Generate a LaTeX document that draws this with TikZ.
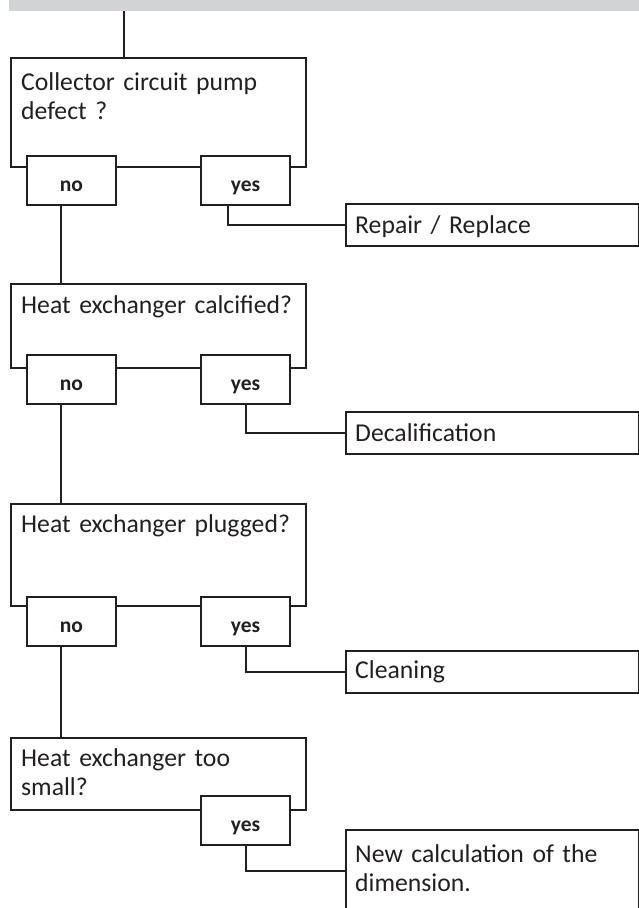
\documentclass[tikz,border=0pt]{standalone}
\usepackage{fontspec}
\setmainfont{Carlito}
\definecolor{ink}{HTML}{231F20}
\definecolor{bargray}{HTML}{D1D3D4}
\begin{document}
\begin{tikzpicture}[x=1pt,y=-1pt,
  box/.style={draw=ink, line width=2pt, rectangle, inner sep=0pt, anchor=north west, minimum width=295pt},
  qbox/.style={box, minimum width=295pt},
  rbox/.style={box, minimum width=293pt, fill=white},
  ans/.style={box, fill=white, minimum width=89pt, minimum height=49pt, text=ink,
     font=\bfseries\fontsize{21.5}{24}\selectfont, text height=21pt, text depth=0pt},
  qtext/.style={anchor=base west, inner sep=0pt, text width=290pt, align=left, text=ink,
     font=\fontsize{25.7}{29.5}\selectfont},
  wire/.style={draw=ink, line width=2pt}]
\useasboundingbox (0,0) rectangle (639,908);
\clip (0,0) rectangle (639,908);
% named x positions of the connectors
\coordinate (top) at (124,0);
\coordinate (spine) at (61,0);
\coordinate (ya) at (228,0);
\coordinate (yb) at (246,0);
% grey bar
\node[fill=bargray, inner sep=0pt, anchor=north west, minimum width=630pt, minimum height=10.5pt] (bar) at (9,0) {};
% question 1
\node[qbox, minimum height=109pt] (d1) at (10,57) {};
\node[qtext] (t1) at (21,90) {Collector circuit pump\\defect ?};
\node[ans] (n1) at (26,155) {no};
\node[ans] (y1) at (200,155) {yes};
\node[rbox, minimum height=42pt] (r1) at (345,203) {};
\node[qtext] (s1) at (355,233) {Repair / Replace};
% question 2
\node[qbox, minimum height=84pt] (d2) at (10,283) {};
\node[qtext] (t2) at (21,313) {Heat exchanger calcified?};
\node[ans] (n2) at (26,354) {no};
\node[ans] (y2) at (200,354) {yes};
\node[rbox, minimum height=42pt] (r2) at (345,411) {};
\node[qtext] (s2) at (355,441) {Decalification};
% question 3
\node[qbox, minimum height=102pt] (d3) at (10,503) {};
\node[qtext] (t3) at (21,532) {Heat exchanger plugged?};
\node[ans] (n3) at (26,596) {no};
\node[ans] (y3) at (200,596) {yes};
\node[rbox, minimum height=42pt] (r3) at (345,650) {};
\node[qtext] (s3) at (355,678) {Cleaning};
% question 4
\node[qbox, minimum height=72pt] (d4) at (10,737) {};
\node[qtext] (t4) at (21,766) {Heat exchanger too\\small?};
\node[ans] (y4) at (200,795) {yes};
\node[rbox, minimum height=82pt] (r4) at (345,829) {};
\node[qtext] (s4) at (355,862) {New calculation of the\\dimension.};
% connectors
\draw[wire] (bar.south -| top) -- (d1.north -| top);
\draw[wire] (n1.south -| spine) -- (d2.north -| spine);
\draw[wire] (n2.south -| spine) -- (d3.north -| spine);
\draw[wire] (n3.south -| spine) -- (d4.north -| spine);
\draw[wire] (y1.south -| ya) |- (r1.west);
\draw[wire] (y2.south -| yb) |- (r2.west);
\draw[wire] (y3.south -| yb) |- (r3.west);
\draw[wire] (y4.south -| yb) |- (r4.west);
\end{tikzpicture}
\end{document}
